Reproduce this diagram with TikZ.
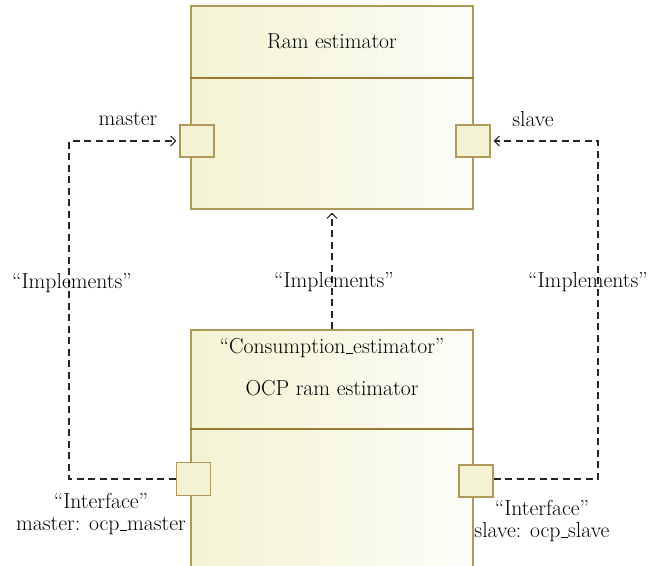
\documentclass[tikz,border=0pt]{standalone}
\usetikzlibrary{arrows.meta}
\definecolor{boxline}{RGB}{176,152,88}
\definecolor{divline}{RGB}{154,122,48}
\definecolor{fillL}{RGB}{243,243,211}
\definecolor{fillR}{RGB}{253,253,248}
\newcommand\shortus{\kern0.6pt\rule[-0.4pt]{6.5pt}{1.3pt}\kern0.6pt}
\tikzset{
  comp/.style={draw=boxline, line width=1.3pt, left color=fillL, right color=fillR, minimum width=282pt, inner sep=0pt},
  port/.style={draw=boxline, line width=1.2pt, fill=fillL, minimum width=34pt, minimum height=32pt, inner sep=0pt},
  impl/.style={draw=black!85, line width=1.1pt, dash pattern=on 7pt off 4.5pt, -{Straight Barb[length=5pt,width=10pt,line width=1.1pt]}, shorten >=3pt},
  lbl/.style={inner sep=0pt, font=\fontsize{21.7}{22}\selectfont, align=center},
}
\begin{document}
\begin{tikzpicture}[x=1pt,y=-1pt]
\useasboundingbox (0,0) rectangle (658,565);
\clip (0,0) rectangle (658,565);
% top component
\node[comp, minimum height=203pt] (top) at (332,107.5) {};
\draw[divline, line width=1.5pt] (top.west |- 0,78) coordinate (tdl) -- (top.east |- 0,78) coordinate (tdr);
\node[lbl] (ttl) at (332,41) {Ram estimator};
\node[port] (pm) at (197,141) {};
\node[port] (ps) at (473,141) {};
\node[lbl] (lm) at (128,119) {master};
\node[lbl] (ls) at (533,119) {slave};
% bottom component
\node[comp, minimum height=260pt] (bot) at (332,460) {};
\draw[divline, line width=1.5pt] (bot.west |- 0,429) coordinate (bdl) -- (bot.east |- 0,429) coordinate (bdr);
\node[lbl] (st) at (332,348) {``Consumption\shortus estimator''};
\node[lbl] (nm) at (332,388) {OCP ram estimator};
\node[port, minimum height=33pt] (bpm) at (193.5,479) {};
\node[port] (bps) at (476,481) {};
\node[lbl] (ifl) at (101,514) {``Interface''\\master: ocp\shortus master};
\node[lbl] (ifr) at (542,521) {``Interface''\\slave: ocp\shortus slave};
% connectors
\coordinate (cl) at (69,141);
\coordinate (cr) at (598,141);
\draw[impl] (bpm.west) -| (cl) -- (pm.west);
\draw[impl] ([yshift=2pt]bps.east) -| (cr) -- (ps.east);
\draw[impl] (bot.north) -- (top.south);
% labels
\node[lbl] (im1) at (72,283) {``Implements''};
\node[lbl] (im2) at (334,282) {``Implements''};
\node[lbl] (im3) at (588,282) {``Implements''};
\end{tikzpicture}
\end{document}
